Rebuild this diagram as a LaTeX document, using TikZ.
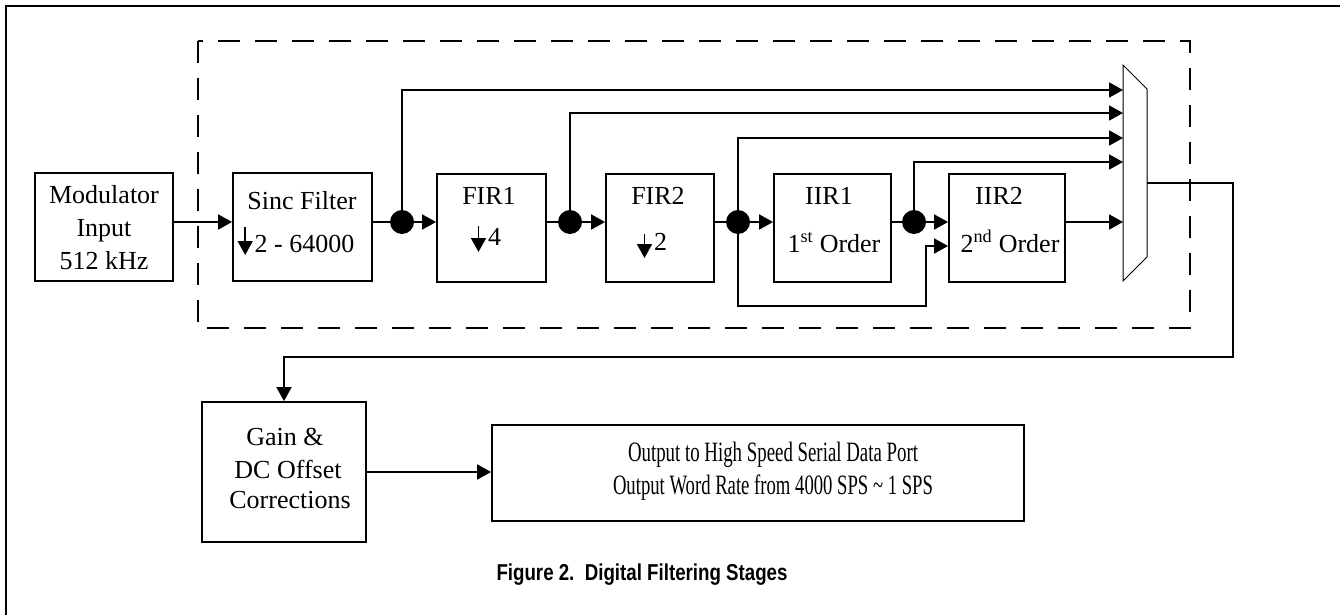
\documentclass[tikz,border=0pt]{standalone}
\usepackage{graphicx}
\usepackage{fontspec}
\setmainfont{Liberation Serif}
\newfontfamily\capfont{Liberation Sans}
\usetikzlibrary{arrows.meta}
\newcommand{\dnarr}[2]{\tikz[baseline=0pt]\draw[line width=1.6pt,-{Triangle[length=14pt,width=15pt]}] (0pt,#1) -- (0pt,#2);}
\begin{document}
\begin{tikzpicture}[x=1pt,y=-1pt,
  box/.style={draw, line width=1.8pt, inner sep=0pt},
  lbl/.style={anchor=base, inner sep=0pt, font=\fontsize{26}{33}\selectfont},
  dot/.style={circle, fill=black, inner sep=0pt, minimum size=24pt},
  wire/.style={line width=1.8pt},
  arr/.style={wire, -{Triangle[length=14pt,width=15pt]}},
]
\useasboundingbox (0,0) rectangle (1340,615);
% outer frame (top and left only)
\draw[line width=2.2pt] (6,640) -- (6,6) -- (1360,6);
% dashed enclosure
\draw[line width=1.6pt, dash pattern=on 22pt off 15pt] (198,41) rectangle (1190,328);

% boxes
\node[box, minimum width=138pt, minimum height=108pt] (mod) at (104,227) {};
\node[box, minimum width=139pt, minimum height=108pt] (sinc) at (302.5,227) {};
\node[box, minimum width=109pt, minimum height=108pt] (fir1) at (491.5,228) {};
\node[box, minimum width=108pt, minimum height=108pt] (fir2) at (660,228) {};
\node[box, minimum width=117pt, minimum height=108pt] (iir1) at (832.5,228) {};
\node[box, minimum width=116pt, minimum height=108pt] (iir2) at (1007,228) {};
\node[box, minimum width=164pt, minimum height=140pt] (gain) at (284,472) {};
\node[box, minimum width=532pt, minimum height=96pt] (out) at (758,473) {};

% labels
\node[lbl] (modA) at (104,203) {Modulator};
\node[lbl] (modB) at (104,236) {Input};
\node[lbl] (modC) at (104,269) {512 kHz};
\node[lbl] (sincA) at (302,209) {Sinc Filter};
\node[lbl] (sincB) at (296,252) {\dnarr{25pt}{-3pt}\hspace{2pt}2 - 64000};
\node[lbl] (fir1A) at (489,204) {FIR1};
\node[lbl] (fir1B) at (486,245) {\dnarr{19pt}{-7pt}\hspace{2pt}4};
\node[lbl] (fir2A) at (658,204) {FIR2};
\node[lbl] (fir2B) at (652,250) {\dnarr{16pt}{-8pt}\hspace{2pt}2};
\node[lbl] (iir1A) at (829,204) {IIR1};
\node[lbl] (iir1B) at (834,252) {1\textsuperscript{st} Order};
\node[lbl] (iir2A) at (999,204) {IIR2};
\node[lbl] (iir2B) at (1010,252) {2\textsuperscript{nd} Order};
\node[lbl] (gainA) at (285,445) {Gain \&};
\node[lbl] (gainB) at (288,478) {DC Offset};
\node[lbl] (gainC) at (290,508) {Corrections};
\node[lbl, font=\fontsize{28}{33}\selectfont] (outA) at (773,461) {\resizebox{290pt}{\height}{Output to High Speed Serial Data Port}};
\node[lbl, font=\fontsize{28}{33}\selectfont] (outB) at (773,494) {\resizebox{320pt}{\height}{Output Word Rate from 4000 SPS \textasciitilde{} 1 SPS}};
\node[anchor=base, inner sep=0pt] (cap) at (642,580) {\capfont\bfseries\fontsize{23}{26}\selectfont\resizebox{291pt}{\height}{Figure 2.\ \ Digital Filtering Stages}};

% junction dots
\node[dot] (d1) at (402,222) {};
\node[dot] (d2) at (570,222) {};
\node[dot] (d3) at (738,222) {};
\node[dot] (d4) at (914,222) {};

% multiplexer
\draw[line width=1pt] (1123,65) -- (1147,89) -- (1147,257) -- (1123,281) -- cycle;
\coordinate (m1) at (1123,90);
\coordinate (m2) at (1123,113);
\coordinate (m3) at (1123,138);
\coordinate (m4) at (1123,162);
\coordinate (m5) at (1123,222);
\coordinate (mo) at (1147,183);
\coordinate (r1) at (1233,357);
\coordinate (c1) at (926,306);
\coordinate (c2) at (926,246);

% main chain
\draw[arr] (mod.east |- d1) -- (sinc.west |- d1);
\draw[wire] (sinc.east |- d1) -- (d1);
\draw[arr] (d1) -- (fir1.west |- d1);
\draw[wire] (fir1.east |- d2) -- (d2);
\draw[arr] (d2) -- (fir2.west |- d2);
\draw[wire] (fir2.east |- d3) -- (d3);
\draw[arr] (d3) -- (iir1.west |- d3);
\draw[wire] (iir1.east |- d4) -- (d4);
\draw[arr] (d4) -- (iir2.west |- d4);
\draw[arr] (iir2.east |- m5) -- (m5);
% bypass taps
\draw[arr] (d1) |- (m1);
\draw[arr] (d2) |- (m2);
\draw[arr] (d3) |- (m3);
\draw[arr] (d4) |- (m4);
\draw[arr] (d3) |- (c1) -- (c2) -- (iir2.west |- c2);
% output path
\draw[arr] (mo) -| (r1) -| (gain.north);
\draw[arr] (gain.east) -- (gain.east -| out.west);
\end{tikzpicture}
\end{document}
